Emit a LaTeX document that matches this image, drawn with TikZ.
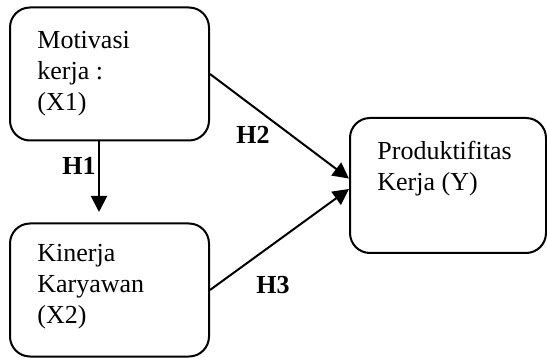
\documentclass[tikz,border=0pt]{standalone}
\usepackage{fontspec}
\setmainfont{Liberation Serif}
\usetikzlibrary{arrows.meta}

\begin{document}
\begin{tikzpicture}[x=0.5pt, y=-0.5pt]
    \def\bw{99.5pt}
    \def\bh{66.5pt}
    \tikzset{box/.style={draw, rounded corners=10pt, line width=1pt, minimum width=\bw, minimum height=\bh, inner sep=0pt}}
    \tikzset{txt/.style={anchor=north west, align=left, inner sep=0pt, font=\fontsize{13}{15.5}\selectfont}}
    \tikzset{hyp/.style={inner sep=0pt, font=\fontsize{13}{15.5}\selectfont\bfseries}}
    \tikzset{arr/.style={line width=1pt, -{Triangle[length=8pt, width=8pt]}}}
    \useasboundingbox (0, 0) rectangle (547, 358);

    \node[box] (x1) at (109.5, 74) {};
    \node[box] (x2) at (109.5, 290) {};
    \node[box, minimum width=98pt, minimum height=67.5pt] (y) at (448, 185.5) {};

    \node[txt] (x1txt) at (37, 31) {Motivasi\\kerja :\\(X1)};
    \node[txt] (x2txt) at (37, 244) {Kinerja\\Karyawan\\(X2)};
    \node[txt] (ytxt) at (377, 141) {Produktifitas\\Kerja (Y)};

    \coordinate (h1end) at (99, 212);
    \draw[arr] (h1end |- x1.south) -- (h1end);
    \draw[arr] (x1.east) -- (y.176);
    \draw[arr] (x2.east) -- (y.182);

    \node[hyp] (h1) at (79, 166) {H1};
    \node[hyp] (h2) at (253, 135) {H2};
    \node[hyp] (h3) at (273, 285) {H3};

\end{tikzpicture}
\end{document}
